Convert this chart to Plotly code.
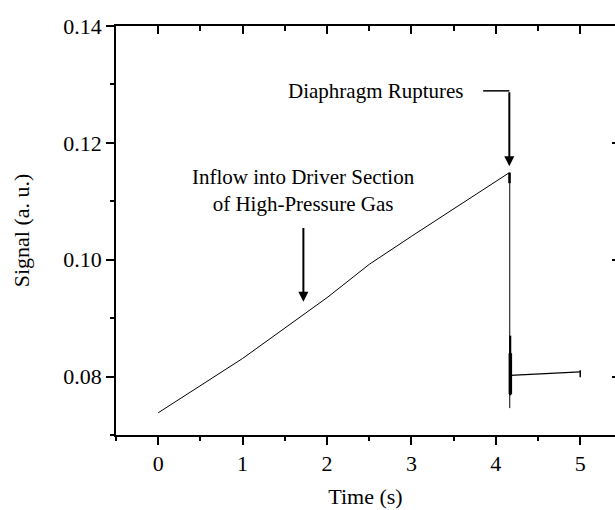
import plotly.graph_objects as go

# Main rising signal (time in s, signal in a.u.)
rise_t = [0.0, 1.0, 2.0, 2.5, 3.0, 3.5, 4.0, 4.16]
rise_v = [0.0738, 0.0831, 0.0935, 0.0992, 0.1040, 0.1087, 0.1134, 0.1149]

# Rupture drop
drop_t = [4.165, 4.165]
drop_v = [0.1149, 0.0746]

# Short thick burst at top of drop
top_t = [4.162, 4.162]
top_v = [0.1149, 0.1131]

# Noisy thick part of the drop
noise_t = [4.17, 4.17]
noise_v = [0.0870, 0.0768]
noise2_t = [4.172, 4.172]
noise2_v = [0.0840, 0.0770]

# After-rupture level
after_t = [4.17, 5.0]
after_v = [0.0802, 0.0808]
end_t = [5.0, 5.0]
end_v = [0.0799, 0.0811]

x_ticks = [0, 1, 2, 3, 4, 5]
y_ticks = [0.08, 0.10, 0.12, 0.14]

FONT = "Liberation Serif, Times New Roman, Times, serif"

fig = go.Figure()
line = dict(color="black", width=1)
fig.add_trace(go.Scatter(x=rise_t, y=rise_v, mode="lines", line=line))
fig.add_trace(go.Scatter(x=drop_t, y=drop_v, mode="lines", line=line))
fig.add_trace(go.Scatter(x=top_t, y=top_v, mode="lines", line=dict(color="black", width=2.5)))
fig.add_trace(go.Scatter(x=noise_t, y=noise_v, mode="lines", line=dict(color="black", width=2.2)))
fig.add_trace(go.Scatter(x=noise2_t, y=noise2_v, mode="lines", line=dict(color="black", width=3.5)))
fig.add_trace(go.Scatter(x=after_t, y=after_v, mode="lines", line=dict(color="black", width=1.3)))
fig.add_trace(go.Scatter(x=end_t, y=end_v, mode="lines", line=dict(color="black", width=1.5)))
# empty trace so the mirrored top/right axes get drawn
fig.add_trace(go.Scatter(x=[None], y=[None], xaxis="x2", yaxis="y2", mode="lines",
                         hoverinfo="skip"))

axis_common = dict(showgrid=False, zeroline=False, showline=True, linecolor="black",
                   linewidth=1.5, tickcolor="black", tickwidth=1.5)

fig.update_layout(
    width=615, height=510,
    margin=dict(l=116, r=0, t=26, b=75),
    paper_bgcolor="white", plot_bgcolor="white",
    showlegend=False,
    font=dict(family=FONT, size=22, color="black"),
    xaxis=dict(range=[-0.5, 5.412], tickvals=x_ticks, ticks="outside", ticklen=8,
               minor=dict(dtick=0.5, tick0=0, ticks="outside", ticklen=4,
                          tickcolor="black", tickwidth=1.5),
               title=dict(text="Time (s)", standoff=13, font=dict(family=FONT, size=22)),
               tickfont=dict(family=FONT, size=22), **axis_common),
    xaxis2=dict(range=[-0.5, 5.412], overlaying="x", side="top", anchor="y2",
                tickvals=x_ticks, ticks="inside", ticklen=8, showticklabels=False,
                minor=dict(dtick=0.5, tick0=0, ticks="inside", ticklen=5,
                           tickcolor="black", tickwidth=1.5),
                **axis_common),
    yaxis=dict(range=[0.07, 0.14], tickvals=y_ticks, tickformat=".2f",
               ticks="outside", ticklen=8,
               minor=dict(dtick=0.01, tick0=0.07, ticks="outside", ticklen=4,
                          tickcolor="black", tickwidth=1.5),
               title=dict(text="Signal (a. u.)", standoff=28, font=dict(family=FONT, size=22)),
               tickfont=dict(family=FONT, size=22), **axis_common),
    yaxis2=dict(range=[0.07, 0.14], overlaying="y", side="right", anchor="x2",
                tickvals=y_ticks, ticks="inside", ticklen=3, showticklabels=False,
                showline=False, showgrid=False, zeroline=False,
                tickcolor="black", tickwidth=1.5),
)

# Diaphragm Ruptures label with bent arrow
fig.add_annotation(x=2.58, y=0.1289, xref="x", yref="y", text="Diaphragm Ruptures",
                   showarrow=False, font=dict(family=FONT, size=21, color="black"))
fig.add_shape(type="line", x0=3.85, x1=4.16, y0=0.1289, y1=0.1289, xref="x", yref="y",
              line=dict(color="black", width=1.5))
fig.add_annotation(x=4.16, y=0.1160, ax=4.16, ay=0.1289, xref="x", yref="y",
                   axref="x", ayref="y", text="", showarrow=True, arrowhead=2,
                   arrowsize=1, arrowwidth=2, arrowcolor="black")

# Inflow label with arrow
fig.add_annotation(x=1.72, y=0.1119, xref="x", yref="y",
                   text="Inflow into Driver Section<br>of High-Pressure Gas",
                   showarrow=False, font=dict(family=FONT, size=21, color="black"))
fig.add_annotation(x=1.72, y=0.0928, ax=1.72, ay=0.1057, xref="x", yref="y",
                   axref="x", ayref="y", text="", showarrow=True, arrowhead=2,
                   arrowsize=1, arrowwidth=2, arrowcolor="black")

fig.write_html("out.html")
